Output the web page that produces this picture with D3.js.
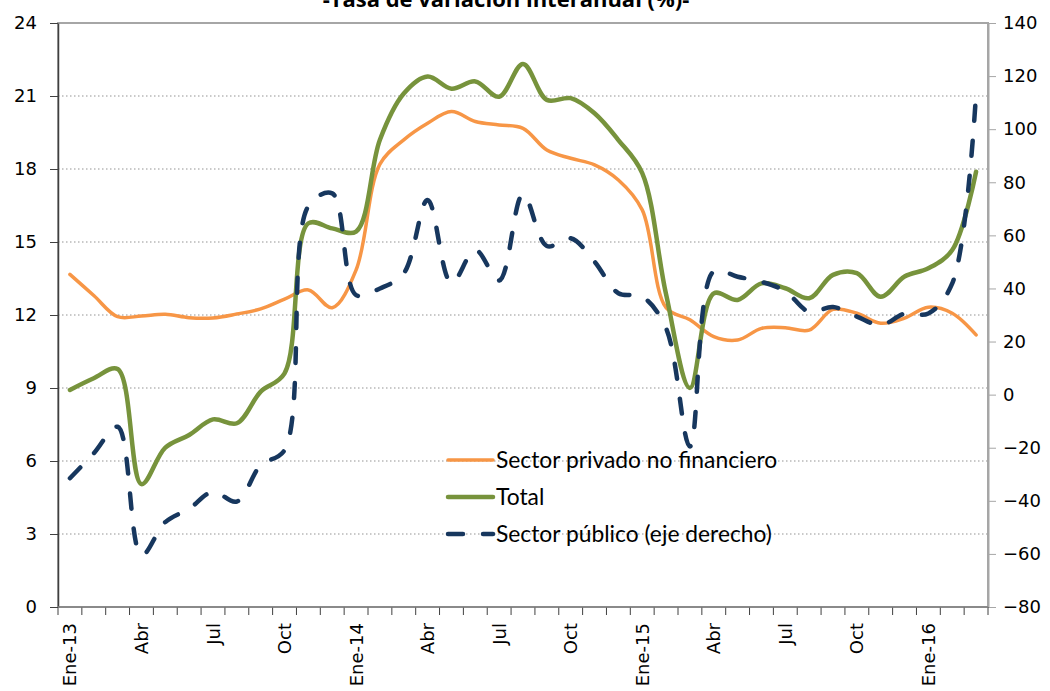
<!DOCTYPE html>
<html>
<head>
<meta charset="utf-8">
<script src="https://cdn.jsdelivr.net/npm/d3@7"></script>
<style>
  body { margin: 0; background: #fff; }
  svg { display: block; }
</style>
</head>
<body>
<div id="chart"></div>
<script>
// months Ene-13 .. Mar-16
var months = ["Ene-13","Feb-13","Mar-13","Abr-13","May-13","Jun-13","Jul-13","Ago-13","Sep-13","Oct-13","Nov-13","Dic-13",
              "Ene-14","Feb-14","Mar-14","Abr-14","May-14","Jun-14","Jul-14","Ago-14","Sep-14","Oct-14","Nov-14","Dic-14",
              "Ene-15","Feb-15","Mar-15","Abr-15","May-15","Jun-15","Jul-15","Ago-15","Sep-15","Oct-15","Nov-15","Dic-15",
              "Ene-16","Feb-16","Mar-16"];
var tickLabels = ["Ene-13","Abr","Jul","Oct","Ene-14","Abr","Jul","Oct","Ene-15","Abr","Jul","Oct","Ene-16"];

var privado = [13.67, 12.8, 11.93, 11.96, 12.03, 11.89, 11.88, 12.04, 12.25, 12.65, 13.03, 12.3,
               13.85, 18.2, 19.2, 19.88, 20.36, 19.95, 19.81, 19.67, 18.78, 18.44, 18.17, 17.55,
               16.32, 12.3, 11.8, 11.11, 10.97, 11.45, 11.48, 11.38, 12.23, 12.07, 11.66, 11.87,
               12.32, 12.07, 11.18];
var total = [8.92, 9.4, 9.78, 5.05, 6.55, 7.07, 7.71, 7.55, 8.85, 9.6, 15.77, 15.56,
             15.43, 19.2, 21.1, 21.8, 21.3, 21.6, 20.97, 22.32, 20.84, 20.91, 20.29, 19.19,
             17.83, 12.85, 9.0, 12.89, 12.62, 13.3, 13.1, 12.69, 13.65, 13.72, 12.75, 13.58,
             13.92, 14.67, 17.89];
// right axis
var publico = [-31.5, -22.1, -12.1, -60.5, -48, -43, -36.6, -40.3, -26.5, -20.9, 71, 75.8,
               37.5, 40, 45.7, 73.3, 42, 54.5, 43, 75.5, 56, 58.9, 50.1, 38.2,
               36.9, 25, -19.5, 46.5, 44.4, 42.5, 39, 31.2, 33, 29.4, 26.2, 30.5,
               30.6, 41.9, 113.5];

var leftTicks = [0, 3, 6, 9, 12, 15, 18, 21, 24];
var rightTicks = [-80, -60, -40, -20, 0, 20, 40, 60, 80, 100, 120, 140];

var series = [
    {name: "Sector privado no financiero", values: privado, axis: "left", color: "#f79646", width: 3.5, dash: null},
    {name: "Total", values: total, axis: "left", color: "#77933c", width: 4.5, dash: null},
    {name: "Sector público (eje derecho)", values: publico, axis: "right", color: "#17375e", width: 4.5, dash: "15,20"}
];

var W = 1050, H = 691;
var plot = {left: 58, right: 988, top: 23, bottom: 607};
var axisFont = "'DejaVu Sans', Verdana, sans-serif";

var svg = d3.select("#chart").append("svg")
    .attr("width", W)
    .attr("height", H)
    .style("font-family", axisFont);

var xScale = d3.scaleBand()
    .domain(months)
    .range([plot.left, plot.right]);
var yLeft = d3.scaleLinear()
    .domain([0, 24])
    .range([plot.bottom, plot.top]);
var yRight = d3.scaleLinear()
    .domain([-80, 140])
    .range([plot.bottom, plot.top]);

function cx(m) { return xScale(m) + xScale.bandwidth() / 2; }

// title (cut at the top, as in the original)
svg.append("text")
    .attr("x", 506)
    .attr("y", 7)
    .attr("text-anchor", "middle")
    .style("font-family", "'Open Sans', sans-serif")
    .style("font-weight", "bold")
    .style("font-size", "22px")
    .text("-Tasa de variación interanual (%)-");

// gridlines
svg.append("g").selectAll("line")
    .data(leftTicks.filter(function(d) { return d > 0 && d < 24; }))
    .enter().append("line")
    .attr("x1", plot.left).attr("x2", plot.right)
    .attr("y1", function(d) { return yLeft(d); })
    .attr("y2", function(d) { return yLeft(d); })
    .attr("stroke", "#b8b8b8")
    .attr("stroke-width", 1.5)
    .attr("stroke-dasharray", "1.5,2.5");

// plot border
svg.append("rect")
    .attr("x", plot.left).attr("y", plot.top)
    .attr("width", plot.right - plot.left)
    .attr("height", plot.bottom - plot.top)
    .attr("fill", "none")
    .attr("stroke", "#a6a6a6")
    .attr("stroke-width", 2);

// left axis
var axL = svg.append("g")
    .attr("transform", "translate(" + plot.left + ",0)")
    .call(d3.axisLeft(yLeft).tickValues(leftTicks).tickSize(8).tickSizeOuter(0).tickPadding(13));
axL.attr("font-family", null).attr("font-size", null);
axL.select(".domain").attr("stroke", "#404040").attr("stroke-width", 1.5);
axL.selectAll(".tick line").attr("stroke", "#404040");
axL.selectAll("text").style("font-size", "18px").attr("fill", "#000");

// right axis
var axR = svg.append("g")
    .attr("transform", "translate(" + plot.right + ",0)")
    .call(d3.axisRight(yRight).tickValues(rightTicks).tickSize(8).tickSizeOuter(0).tickPadding(7));
axR.attr("font-family", null).attr("font-size", null);
axR.select(".domain").attr("stroke", "#a6a6a6").attr("stroke-width", 2);
axR.selectAll(".tick line").attr("stroke", "#a6a6a6");
axR.selectAll("text").style("font-size", "18px").attr("fill", "#000");

// bottom tick marks between months
var bounds = months.map(function(m) { return xScale(m); }).concat([plot.right]);
svg.append("g").selectAll("line")
    .data(bounds)
    .enter().append("line")
    .attr("x1", function(d) { return d; }).attr("x2", function(d) { return d; })
    .attr("y1", plot.bottom).attr("y2", plot.bottom + 8)
    .attr("stroke", "#404040");
svg.append("line")
    .attr("x1", plot.left).attr("x2", plot.right)
    .attr("y1", plot.bottom).attr("y2", plot.bottom)
    .attr("stroke", "#808080").attr("stroke-width", 1.5);

// month labels every 3 months
var shown = months.filter(function(m, i) { return i % 3 === 0; });
svg.append("g").selectAll("text")
    .data(shown)
    .enter().append("text")
    .attr("transform", function(d) { return "translate(" + (cx(d) + 6.5) + "," + (plot.bottom + 16) + ") rotate(-90)"; })
    .attr("text-anchor", "end")
    .style("font-size", "18px")
    .text(function(d, i) { return tickLabels[i]; });

// lines
series.forEach(function(s) {
    var yS = s.axis === "left" ? yLeft : yRight;
    var line = d3.line()
        .x(function(d, i) { return cx(months[i]); })
        .y(function(d) { return yS(d); })
        .curve(d3.curveCatmullRom.alpha(0.5));
    svg.append("path")
        .datum(s.values)
        .attr("d", line)
        .attr("fill", "none")
        .attr("stroke", s.color)
        .attr("stroke-width", s.width)
        .attr("stroke-linecap", "round")
        .attr("stroke-linejoin", "round")
        .attr("stroke-dasharray", s.dash);
});

// legend
var legendY = [460, 497, 534];
var legend = svg.append("g");
series.forEach(function(s, i) {
    legend.append("line")
        .attr("x1", 448).attr("x2", 493)
        .attr("y1", legendY[i]).attr("y2", legendY[i])
        .attr("stroke", s.color)
        .attr("stroke-width", s.width)
        .attr("stroke-linecap", "round")
        .attr("stroke-dasharray", s.dash);
    legend.append("text")
        .attr("x", 496)
        .attr("y", legendY[i])
        .attr("dy", "0.35em")
        .style("font-family", "Lato, 'Open Sans', sans-serif")
        .style("font-size", "22.8px")
        .text(s.name);
});
</script>
</body>
</html>
